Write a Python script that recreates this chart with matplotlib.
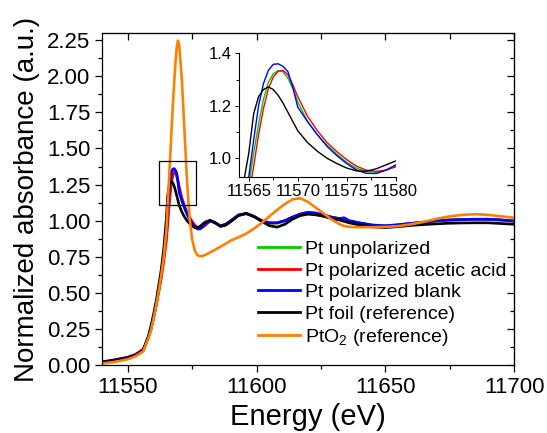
import matplotlib
matplotlib.use("Agg")
import matplotlib.pyplot as plt
from matplotlib.ticker import MultipleLocator
from matplotlib.patches import Rectangle

plt.rcParams['font.family'] = ['Liberation Sans', 'DejaVu Sans']
plt.rcParams['mathtext.fontset'] = 'custom'
plt.rcParams['mathtext.rm'] = 'Liberation Sans'
plt.rcParams['mathtext.it'] = 'Liberation Sans'

energy = [11540, 11545, 11550, 11553, 11556, 11558, 11559, 11560, 11561, 11562,
          11563, 11564, 11565, 11565.5, 11566, 11566.5, 11567, 11567.5, 11568, 11568.5,
          11569, 11569.5, 11570, 11571, 11572, 11573, 11574, 11575, 11576, 11577,
          11578, 11579, 11580, 11582, 11584, 11586, 11588, 11590, 11593, 11596,
          11599, 11602, 11605, 11608, 11611, 11614, 11617, 11620, 11623, 11626,
          11629, 11632, 11634, 11636, 11640, 11645, 11650, 11655, 11660, 11665,
          11670, 11675, 11680, 11685, 11690, 11695, 11700]

pt_unpolarized = [0.02, 0.035, 0.052, 0.07, 0.105, 0.19, 0.245, 0.32, 0.41, 0.51,
                  0.61, 0.74, 0.9, 1.02, 1.13, 1.225, 1.29, 1.322, 1.334, 1.33,
                  1.305, 1.265, 1.215, 1.14, 1.09, 1.05, 1.015, 0.985, 0.962, 0.95,
                  0.947, 0.955, 0.968, 0.998, 0.985, 0.963, 0.973, 0.998, 1.038, 1.048,
                  1.028, 0.998, 0.982, 0.982, 0.998, 1.022, 1.043, 1.055, 1.05, 1.038,
                  1.023, 1.012, 1.012, 0.998, 0.983, 0.968, 0.963, 0.97, 0.98, 0.988,
                  0.998, 1.003, 1.006, 1.008, 1.008, 1.003, 0.996]

pt_acetic = [0.022, 0.037, 0.055, 0.075, 0.11, 0.195, 0.25, 0.325, 0.41, 0.505,
             0.6, 0.72, 0.86, 0.97, 1.09, 1.19, 1.265, 1.31, 1.332, 1.335,
             1.318, 1.28, 1.235, 1.16, 1.105, 1.06, 1.025, 0.995, 0.97, 0.955,
             0.95, 0.955, 0.968, 0.998, 0.983, 0.962, 0.972, 0.997, 1.037, 1.05,
             1.03, 1.0, 0.985, 0.985, 1.0, 1.025, 1.047, 1.058, 1.053, 1.04,
             1.025, 1.015, 1.012, 0.998, 0.983, 0.968, 0.963, 0.97, 0.98, 0.99,
             1.0, 1.005, 1.008, 1.01, 1.01, 1.005, 0.997]

pt_blank = [0.02, 0.035, 0.052, 0.07, 0.105, 0.19, 0.25, 0.33, 0.42, 0.52,
            0.63, 0.77, 0.93, 1.07, 1.2, 1.285, 1.335, 1.358, 1.36, 1.35,
            1.33, 1.27, 1.195, 1.14, 1.09, 1.045, 1.01, 0.98, 0.955, 0.943,
            0.942, 0.955, 0.975, 1.0, 0.985, 0.965, 0.975, 1.0, 1.04, 1.05,
            1.03, 1.0, 0.985, 0.985, 1.0, 1.025, 1.045, 1.058, 1.052, 1.04,
            1.025, 1.015, 1.02, 1.0, 0.985, 0.97, 0.965, 0.972, 0.982, 0.99,
            1.0, 1.005, 1.008, 1.01, 1.01, 1.005, 0.998]

pt_foil = [0.02, 0.032, 0.048, 0.065, 0.1, 0.2, 0.27, 0.35, 0.44, 0.55,
           0.66, 0.81, 1.02, 1.17, 1.235, 1.262, 1.272, 1.262, 1.24, 1.21,
           1.175, 1.14, 1.105, 1.06, 1.027, 1.0, 0.98, 0.963, 0.952, 0.951,
           0.96, 0.975, 0.99, 1.003, 0.985, 0.96, 0.968, 0.993, 1.035, 1.05,
           1.028, 0.995, 0.965, 0.955, 0.975, 1.01, 1.035, 1.045, 1.04, 1.03,
           1.015, 1.005, 0.995, 0.985, 0.97, 0.957, 0.952, 0.958, 0.967, 0.973,
           0.978, 0.982, 0.984, 0.985, 0.985, 0.98, 0.975]

pto2 = [0.01, 0.022, 0.04, 0.06, 0.095, 0.185, 0.24, 0.32, 0.41, 0.51,
        0.62, 0.75, 0.93, 1.11, 1.28, 1.45, 1.63, 1.80, 1.95, 2.09,
        2.2, 2.247, 2.21, 1.98, 1.63, 1.28, 1.02, 0.87, 0.795, 0.762,
        0.754, 0.756, 0.762, 0.78, 0.80, 0.82, 0.84, 0.862, 0.885, 0.91,
        0.945, 0.985, 1.03, 1.075, 1.115, 1.148, 1.155, 1.13, 1.09, 1.05,
        1.01, 0.978, 0.963, 0.957, 0.955, 0.955, 0.957, 0.962, 0.975, 0.992,
        1.013, 1.03, 1.04, 1.045, 1.04, 1.03, 1.02]

labels = ['Pt unpolarized', 'Pt polarized acetic acid', 'Pt polarized blank',
          'Pt foil (reference)', 'PtO$_2$ (reference)']
colors = ['#00CC00', '#FF0000', '#0000FF', '#000000', '#FF8000']
series = [pt_unpolarized, pt_acetic, pt_blank, pt_foil, pto2]

fig = plt.figure(figsize=(5.47, 4.33), dpi=100)
ax = fig.add_axes([0.1865, 0.157, 0.7532, 0.7668])

for y, c, lab in zip(series, colors, labels):
    ax.plot(energy, y, color=c, lw=1.9, label=lab)

ax.set_xlim(11540, 11700)
ax.set_ylim(0, 2.3)
ax.xaxis.set_major_locator(MultipleLocator(50))
ax.xaxis.set_minor_locator(MultipleLocator(25))
ax.yaxis.set_major_locator(MultipleLocator(0.25))
ax.yaxis.set_minor_locator(MultipleLocator(0.125))
ax.yaxis.set_major_formatter(matplotlib.ticker.FormatStrFormatter('%.2f'))
ax.tick_params(axis='both', which='major', labelsize=16, direction='out', length=5, width=0.9, pad=3.5)
ax.tick_params(axis='both', which='minor', direction='out', length=3, width=0.9)
for s in ax.spines.values():
    s.set_linewidth(0.9)

# top / right inward ticks
axt = ax.secondary_xaxis('top')
axt.xaxis.set_major_locator(MultipleLocator(50))
axt.xaxis.set_minor_locator(MultipleLocator(25))
axt.tick_params(which='major', direction='in', length=5, width=0.9, labeltop=False)
axt.tick_params(which='minor', direction='in', length=4, width=0.9)
axr = ax.secondary_yaxis('right')
axr.yaxis.set_major_locator(MultipleLocator(0.25))
axr.yaxis.set_minor_locator(MultipleLocator(0.125))
axr.tick_params(which='major', direction='in', length=5, width=0.9, labelright=False)
axr.tick_params(which='minor', direction='in', length=3, width=0.9)

ax.set_xlabel('Energy (eV)', fontsize=21, labelpad=4)
ax.set_ylabel('Normalized absorbance (a.u.)', fontsize=20, labelpad=5)

ax.add_patch(Rectangle((11562, 1.11), 14.5, 0.30, fill=False, ec='black', lw=0.9, zorder=5))

leg = ax.legend(loc='upper left', bbox_to_anchor=(0.378, 0.375), frameon=False,
                fontsize=14, handlelength=2.15, handletextpad=0.3, labelspacing=0.2,
                borderpad=0, borderaxespad=0)
for l in leg.get_lines():
    l.set_linewidth(2.0)

# inset
axi = fig.add_axes([0.4369, 0.5919, 0.2865, 0.285])
for y, c in zip(series[:4], colors[:4]):
    axi.plot(energy, y, color=c, lw=1.0)
axi.set_xlim(11564, 11580)
axi.set_ylim(0.93, 1.4)
axi.spines['top'].set_visible(False)
axi.spines['right'].set_visible(False)
for s in axi.spines.values():
    s.set_linewidth(0.8)
axi.xaxis.set_major_locator(MultipleLocator(5))
axi.xaxis.set_minor_locator(MultipleLocator(2.5))
axi.yaxis.set_major_locator(MultipleLocator(0.2))
axi.yaxis.set_minor_locator(MultipleLocator(0.1))
axi.tick_params(which='major', labelsize=12, direction='out', length=3, width=0.7, pad=2)
axi.tick_params(which='minor', direction='out', length=2, width=0.7)
axi.patch.set_alpha(0)

fig.savefig('out.png', dpi=100)
